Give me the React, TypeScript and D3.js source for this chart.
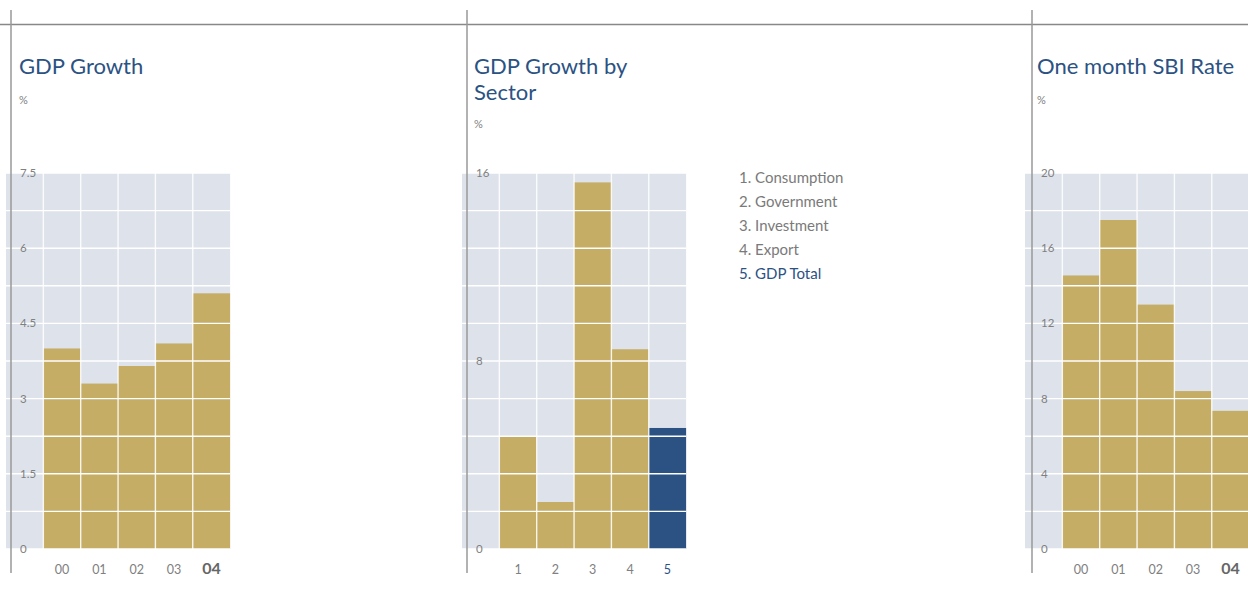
import React from "react";
import * as d3 from "d3";

// ---- data ----
const gdpYears = ["00", "01", "02", "03", "04"];
const gdpGrowth = [4.0, 3.3, 3.65, 4.1, 5.1];
const gdpTicks = [0, 1.5, 3, 4.5, 6, 7.5];

const sectorCats = ["1", "2", "3", "4", "5"];
const sectorNames = ["Consumption", "Government", "Investment", "Export", "GDP Total"];
const sectorGrowth = [4.8, 2.0, 15.6, 8.5, 5.15];
const sectorTicks = [0, 8, 16];

const sbiYears = ["00", "01", "02", "03", "04"];
const sbiRate = [14.55, 17.5, 13.0, 8.4, 7.35];
const sbiTicks = [0, 4, 8, 12, 16, 20];

const BG = "#dee3eb";
const GOLD = "#c5ad65";
const BLUE = "#2b5283";
const GREY = "#808080";
const FONT = "Lato, 'Open Sans', sans-serif";

const TOP = 173;
const BOTTOM = 549;

type PanelProps = {
  x0: number;
  axisX: number;
  titleX: number;
  title: string[];
  pctY: number;
  cats: string[];
  values: number[];
  max: number;
  ticks: number[];
  highlightLast: "bold" | "blue";
};

function Panel({ x0, axisX, titleX, title, pctY, cats, values, max, ticks, highlightLast }: PanelProps) {
  const band = 37.35;
  const x = d3
    .scaleBand<string>()
    .domain(["_", ...cats])
    .range([x0, x0 + band * (cats.length + 1)])
    .padding(0);
  const y = d3.scaleLinear().domain([0, max]).range([BOTTOM, TOP]);
  const grid = d3.range(0, 11).map((i) => (max * i) / 10);
  const last = cats.length - 1;
  return (
    <g>
      <rect x={x0} y={TOP} width={x.range()[1] - x0} height={BOTTOM - TOP} fill={BG} />
      {values.map((v, i) => (
        <rect
          key={i}
          x={x(cats[i])!}
          y={y(v)}
          width={x.bandwidth()}
          height={BOTTOM - y(v)}
          fill={highlightLast === "blue" && i === last ? BLUE : GOLD}
        />
      ))}
      {grid.map((g, i) => (
        <line key={"h" + i} x1={x0} x2={x.range()[1]} y1={y(g)} y2={y(g)} stroke="#fff" strokeWidth={1.4} />
      ))}
      {x.domain().slice(1).map((c) => (
        <line key={"v" + c} x1={x(c)!} x2={x(c)!} y1={TOP} y2={BOTTOM} stroke="#fff" strokeOpacity={0.85} strokeWidth={1.4} />
      ))}
      <line x1={axisX} x2={axisX} y1={10} y2={573} stroke="#999" strokeWidth={1.5} />
      {ticks.map((t) => (
        <text key={"t" + t} x={axisX + 9} y={y(t)} dy="0.35em" fontSize={11.5} fill={GREY} fontFamily={FONT}>
          {String(t)}
        </text>
      ))}
      {cats.map((c, i) => {
        const isLast = i === last;
        const bold = isLast && highlightLast === "bold";
        const blue = isLast && highlightLast === "blue";
        return (
          <text
            key={"x" + c}
            x={x(c)! + x.bandwidth() / 2}
            y={574}
            textAnchor="middle"
            fontSize={bold ? 16 : 12.5}
            fontWeight={bold ? 700 : 400}
            fill={blue ? BLUE : bold ? "#666" : GREY}
            fontFamily={FONT}
          >
            {c}
          </text>
        );
      })}
      <text x={titleX} y={73.5} fontSize={22} fill={BLUE} fontFamily={FONT}>
        {title.map((t, i) => (
          <tspan key={"ti" + i} x={titleX} dy={i === 0 ? 0 : 26.6}>
            {t}
          </tspan>
        ))}
      </text>
      <text x={titleX} y={pctY} fontSize={11} fill={GREY} fontFamily={FONT}>
        %
      </text>
    </g>
  );
}

export default function App() {
  return (
    <svg
      width={1248}
      height={598}
      style={{ position: "absolute", left: 0, top: 0, background: "#fff" }}
    >
      <line x1={0} x2={1248} y1={24.5} y2={24.5} stroke="#888" strokeWidth={1.3} />
      <Panel
        x0={6}
        axisX={11}
        titleX={19}
        title={["GDP Growth"]}
        pctY={104}
        cats={gdpYears}
        values={gdpGrowth}
        max={7.5}
        ticks={gdpTicks}
        highlightLast="bold"
      />
      <Panel
        x0={462}
        axisX={467}
        titleX={474}
        title={["GDP Growth by", "Sector"]}
        pctY={128}
        cats={sectorCats}
        values={sectorGrowth}
        max={16}
        ticks={sectorTicks}
        highlightLast="blue"
      />
      <Panel
        x0={1025}
        axisX={1032}
        titleX={1037}
        title={["One month SBI Rate"]}
        pctY={104}
        cats={sbiYears}
        values={sbiRate}
        max={20}
        ticks={sbiTicks}
        highlightLast="bold"
      />
      {sectorNames.map((n, i) => (
        <text
          key={n}
          x={739}
          y={183 + i * 24}
          fontSize={15}
          fill={i === sectorNames.length - 1 ? BLUE : "#7a7a7a"}
          fontFamily={FONT}
        >
          {`${sectorCats[i]}. ${n}`}
        </text>
      ))}
    </svg>
  );
}
